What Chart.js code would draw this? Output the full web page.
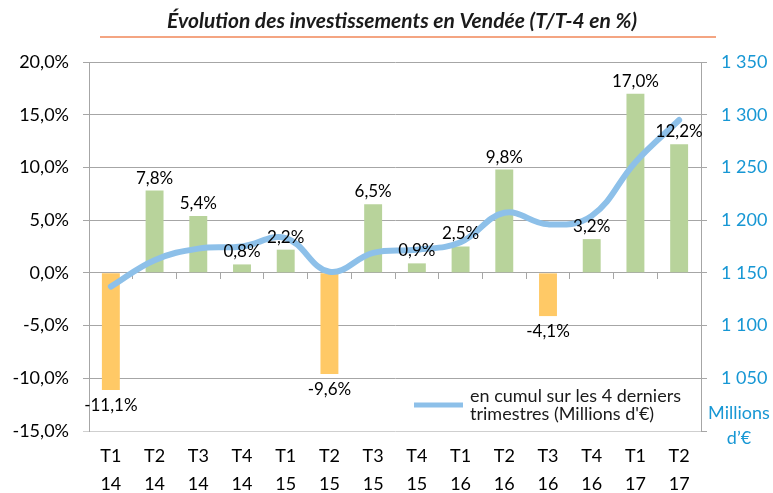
<!DOCTYPE html>
<html>
<head>
<meta charset="utf-8">
<script src="https://cdn.jsdelivr.net/npm/chart.js@4.4.0/dist/chart.umd.min.js"></script>
<style>
  html, body { margin: 0; padding: 0; background: #fff; }
  #zone { width: 773px; height: 493px; }
</style>
</head>
<body>
<div id="zone"><canvas id="graphique"></canvas></div>
<script>
// Données
const TRIMESTRES = [
  ["T1", "14"], ["T2", "14"], ["T3", "14"], ["T4", "14"],
  ["T1", "15"], ["T2", "15"], ["T3", "15"], ["T4", "15"],
  ["T1", "16"], ["T2", "16"], ["T3", "16"], ["T4", "16"],
  ["T1", "17"], ["T2", "17"],
];
const EVOLUTION = [-11.1, 7.8, 5.4, 0.8, 2.2, -9.6, 6.5, 0.9, 2.5, 9.8, -4.1, 3.2, 17.0, 12.2];
const CUMUL = [1137, 1162, 1173, 1175, 1183, 1151, 1169, 1172, 1179, 1207, 1196, 1204, 1255, 1295];
const TITRE = "Évolution des investissements en Vendée (T/T-4 en %)";
const LEGENDE = ["en cumul sur les 4 derniers", "trimestres (Millions d'€)"];
const UNITE = ["Millions", "d’€"];

const POLICE = "Lato, 'Open Sans', sans-serif";
const BLEU_AXE = "#1797D4";
const GRIS = "#a6a6a6";

function pourcent(v) {
  return v.toFixed(1).replace(".", ",") + "%";
}
function milliers(v) {
  return String(v).replace(/\B(?=(\d{3})+(?!\d))/g, " ");
}

// Titre souligné
const pluginTitre = {
  id: "titre",
  afterDraw(chart) {
    let ctx = chart.ctx;
    ctx.save();
    ctx.font = "italic bold 21px " + POLICE;
    ctx.fillStyle = "#1a1a1a";
    ctx.textAlign = "center";
    ctx.textBaseline = "middle";
    ctx.fillText(TITRE, 402, 21);
    ctx.strokeStyle = "#F4A582";
    ctx.lineWidth = 2;
    ctx.beginPath();
    ctx.moveTo(100, 37);
    ctx.lineTo(716, 37);
    ctx.stroke();
    ctx.restore();
  },
};

// Étiquettes des barres
const pluginEtiquettes = {
  id: "etiquettes",
  afterDatasetsDraw(chart) {
    let ctx = chart.ctx;
    let meta = chart.getDatasetMeta(0);
    ctx.save();
    ctx.font = "17px " + POLICE;
    ctx.fillStyle = "#000";
    ctx.textAlign = "center";
    meta.data.forEach((bar, i) => {
      let v = EVOLUTION[i];
      if (v >= 0) {
        ctx.textBaseline = "bottom";
        ctx.fillText(pourcent(v), bar.x, bar.y - 4);
      } else {
        ctx.textBaseline = "top";
        ctx.fillText(pourcent(v), bar.x, bar.y + 7);
      }
    });
    ctx.restore();
  },
};

// Légende dans la zone du graphique + unité de l'axe droit
const pluginLegende = {
  id: "legende",
  afterDraw(chart) {
    let ctx = chart.ctx;
    let a = chart.chartArea;
    ctx.save();
    ctx.strokeStyle = "#8DC0E9";
    ctx.lineWidth = 5;
    ctx.beginPath();
    ctx.moveTo(a.right - 287, a.bottom - 26);
    ctx.lineTo(a.right - 238, a.bottom - 26);
    ctx.stroke();
    ctx.font = "18px " + POLICE;
    ctx.fillStyle = "#1a1a1a";
    ctx.textAlign = "left";
    ctx.textBaseline = "middle";
    ctx.fillText(LEGENDE[0], a.right - 231, a.bottom - 35);
    ctx.fillText(LEGENDE[1], a.right - 231, a.bottom - 17);

    ctx.font = "18px " + POLICE;
    ctx.fillStyle = BLEU_AXE;
    ctx.textAlign = "center";
    ctx.fillText(UNITE[0], a.right + 38, a.bottom - 18);
    ctx.fillText(UNITE[1], a.right + 38, a.bottom + 7);
    ctx.restore();
  },
};

const ctx = document.getElementById("graphique");
new Chart(ctx, {
  data: {
    labels: TRIMESTRES,
    datasets: [
      {
        type: "bar",
        data: EVOLUTION,
        yAxisID: "y",
        xAxisID: "x",
        backgroundColor: (c) => (c.raw < 0 ? "#FFC966" : "#B8D39B"),
        barPercentage: 0.41,
        categoryPercentage: 1,
        order: 2,
      },
      {
        type: "line",
        data: CUMUL,
        yAxisID: "y2",
        xAxisID: "x",
        borderColor: "#8DC0E9",
        borderWidth: 6,
        borderCapStyle: "round",
        tension: 0.4,
        pointRadius: 0,
        fill: false,
        order: 1,
      },
    ],
  },
  options: {
    responsive: true,
    maintainAspectRatio: false,
    animation: false,
    layout: { padding: { top: 62, left: 0, right: 0, bottom: 0 } },
    plugins: {
      legend: { display: false },
      tooltip: { enabled: false },
    },
    scales: {
      x: {
        position: "bottom",
        offset: true,
        grid: { display: false },
        border: { display: false },
        ticks: {
          color: "#000",
          padding: 3,
          font: { family: POLICE, size: 18, lineHeight: 1.55 },
          maxRotation: 0,
          autoSkip: false,
        },
        afterFit: (s) => { s.height = 62; },
      },
      // axe horizontal au niveau du zéro (graduations vers le bas)
      xz: {
        type: "category",
        labels: TRIMESTRES,
        position: { y: 0 },
        offset: true,
        ticks: { display: false },
        grid: { offset: true, drawOnChartArea: false, tickLength: 6, color: GRIS },
        border: { color: GRIS },
      },
      y: {
        position: "left",
        min: -15,
        max: 20,
        ticks: {
          stepSize: 5,
          color: "#000",
          padding: 14,
          font: { family: POLICE, size: 18 },
          callback: (v) => pourcent(v),
        },
        grid: {
          tickLength: 6,
          color: (c) => (c.tick && c.tick.value === -15 ? "#cfcfcf" : GRIS),
        },
        border: { color: GRIS },
        afterFit: (s) => { s.width = 89; },
      },
      y2: {
        position: "right",
        min: 1000,
        max: 1350,
        ticks: {
          stepSize: 50,
          color: BLEU_AXE,
          padding: 14,
          font: { family: POLICE, size: 18 },
          callback: (v) => (v === 1000 ? "" : milliers(v)),
        },
        grid: { drawOnChartArea: false, tickLength: 6, color: GRIS },
        border: { color: GRIS },
        afterFit: (s) => { s.width = 72; },
      },
    },
  },
  plugins: [pluginTitre, pluginEtiquettes, pluginLegende],
});
</script>
</body>
</html>
